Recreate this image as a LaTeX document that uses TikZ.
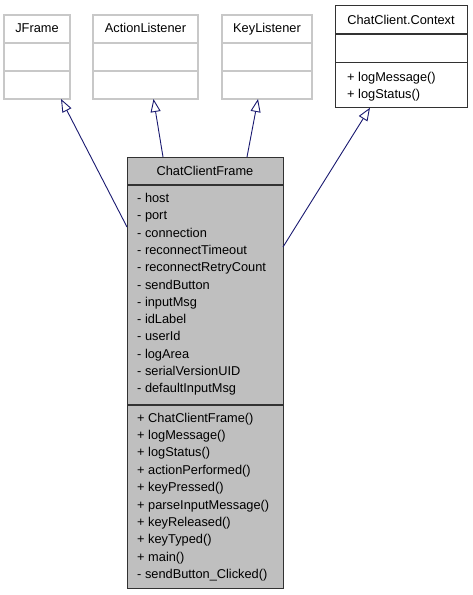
\documentclass[tikz,border=0pt]{standalone}
\usepackage{fontspec}
\setmainfont{Liberation Sans}
\usetikzlibrary{arrows.meta}
\definecolor{extgray}{RGB}{200,200,200}
\definecolor{clsgray}{RGB}{191,191,191}
\definecolor{clsborder}{RGB}{50,50,50}
\definecolor{edgeblue}{RGB}{25,25,112}
\begin{document}
\begin{tikzpicture}[x=1pt,y=-1pt,
  every node/.style={font=\fontsize{12.8}{15}\selectfont},
  extbox/.style={draw=extgray,line width=1.2pt,inner sep=0,outer sep=0},
  clsbox/.style={draw=clsborder,line width=1pt,inner sep=0,outer sep=0},
  title/.style={anchor=base,inner sep=0},
  txt/.style={anchor=base west,inner sep=0},
  inherit/.style={draw=edgeblue,line width=0.9pt,-{Triangle[length=13pt,width=10pt,fill=white]}}]
\useasboundingbox (0,0) rectangle (472,595);
%JFrame
\node[extbox,minimum width=66,minimum height=84] (jframe) at (37,57) {};
\draw[extgray,line width=1.2pt] (4,43) -- (70,43) (4,71) -- (70,71);
\node[title] (jframeT) at (37,32.5) {JFrame};
%ActionListener
\node[extbox,minimum width=105,minimum height=84] (action) at (145.5,57) {};
\draw[extgray,line width=1.2pt] (93,43) -- (198,43) (93,71) -- (198,71);
\node[title] (actionT) at (145.5,32.5) {ActionListener};
%KeyListener
\node[extbox,minimum width=90,minimum height=84] (key) at (267,57) {};
\draw[extgray,line width=1.2pt] (222,43) -- (312,43) (222,71) -- (312,71);
\node[title] (keyT) at (267,32.5) {KeyListener};
%ChatClient.Context
\node[clsbox,fill=white,minimum width=132,minimum height=102.4] (context) at (401,56.5) {};
\draw[clsborder,line width=1.2pt] (335,34) -- (467,34) (335,62.3) -- (467,62.3);
\node[title] (contextT) at (401,24.5) {ChatClient.Context};
\node[txt] (contextM1) at (347,81.5) {+ logMessage()};
\node[txt] (contextM2) at (347,98) {+ logStatus()};
%ChatClientFrame
\node[clsbox,fill=clsgray,minimum width=156,minimum height=431] (main) at (205,372.5) {};
\draw[clsborder,line width=2pt] (127,185) -- (283,185) (127,405) -- (283,405);
\node[title] (mainT) at (205,175.5) {ChatClientFrame};
%attributes
\node[txt] (a1) at (137,202.5) {- host};
\node[txt] (a2) at (137,219.8) {- port};
\node[txt] (a3) at (137,237.1) {- connection};
\node[txt] (a4) at (137,254.4) {- reconnectTimeout};
\node[txt] (a5) at (137,271.7) {- reconnectRetryCount};
\node[txt] (a6) at (137,289) {- sendButton};
\node[txt] (a7) at (137,306.3) {- inputMsg};
\node[txt] (a8) at (137,323.6) {- idLabel};
\node[txt] (a9) at (137,340.9) {- userId};
\node[txt] (a10) at (137,358.2) {- logArea};
\node[txt] (a11) at (137,375.5) {- serialVersionUID};
\node[txt] (a12) at (137,392.8) {- defaultInputMsg};
%methods
\node[txt] (m1) at (137,422) {+ ChatClientFrame()};
\node[txt] (m2) at (137,439.4) {+ logMessage()};
\node[txt] (m3) at (137,456.8) {+ logStatus()};
\node[txt] (m4) at (137,474.2) {+ actionPerformed()};
\node[txt] (m5) at (137,491.6) {+ keyPressed()};
\node[txt] (m6) at (137,509) {+ parseInputMessage()};
\node[txt] (m7) at (137,526.4) {+ keyReleased()};
\node[txt] (m8) at (137,543.8) {+ keyTyped()};
\node[txt] (m9) at (137,561.2) {+ main()};
\node[txt] (m10) at (137,578.6) {- sendButton\_Clicked()};
%generalization
\draw[inherit] ([yshift=-70pt]main.north west) -- ([xshift=24pt]jframe.south);
\draw[inherit] ([xshift=36pt]main.north west) -- ([xshift=8pt]action.south);
\draw[inherit] ([xshift=120pt]main.north west) -- ([xshift=-9pt]key.south);
\draw[inherit] ([yshift=-90pt]main.north east) -- ([xshift=-31pt]context.south);
\end{tikzpicture}
\end{document}
